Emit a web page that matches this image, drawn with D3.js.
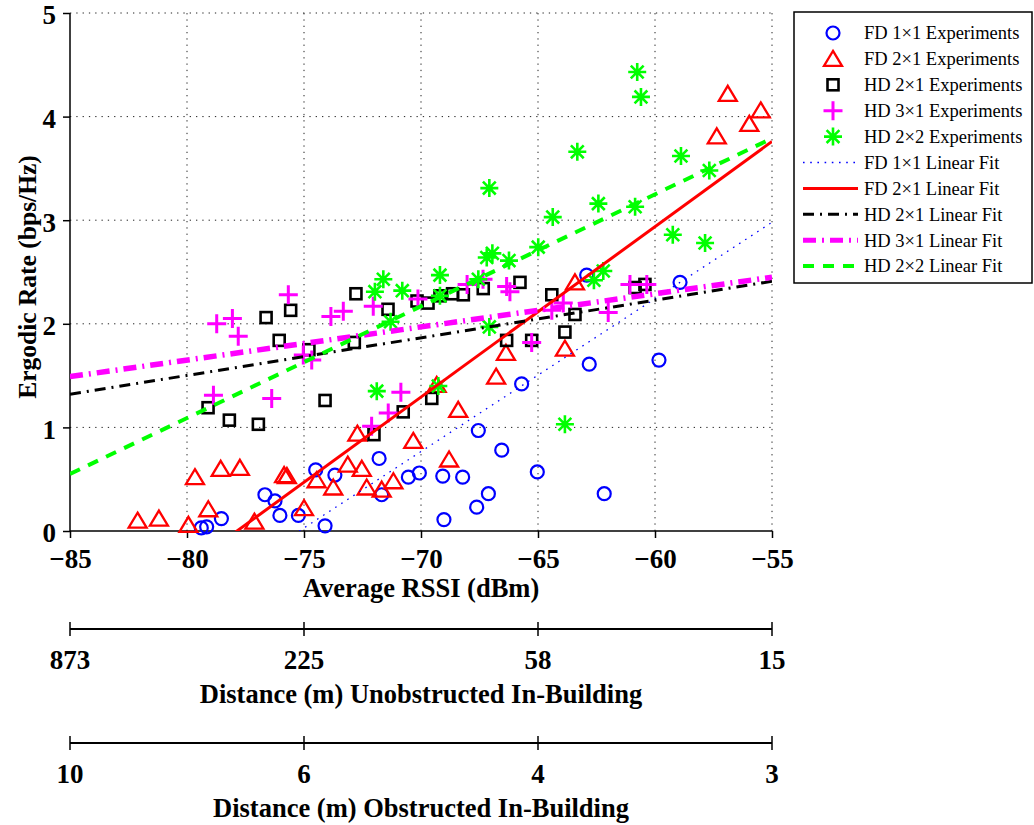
<!DOCTYPE html>
<html><head><meta charset="utf-8">
<script src="https://cdn.jsdelivr.net/npm/d3@7"></script>
<style>body{margin:0;background:#fff}svg{display:block}</style>
</head><body><svg id="c" width="1034" height="825"></svg>
<script>
// ---------- data ----------
const fd11 = [[-79.39,0.03],[-79.16,0.04],[-78.53,0.12],[-76.67,0.35],[-76.24,0.29],[-76.03,0.15],[-75.24,0.15],[-74.50,0.59],[-74.10,0.05],[-73.68,0.54],[-71.79,0.70],[-71.68,0.35],[-70.54,0.52],[-70.07,0.56],[-69.07,0.53],[-69.02,0.11],[-68.22,0.52],[-67.62,0.23],[-67.55,0.97],[-67.12,0.36],[-66.55,0.78],[-65.70,1.42],[-65.03,0.57],[-62.92,2.47],[-62.81,1.61],[-62.17,0.36],[-59.83,1.65],[-58.93,2.40]];
const fd21 = [[-82.11,0.10],[-81.20,0.12],[-79.94,0.06],[-79.66,0.52],[-79.09,0.21],[-78.56,0.60],[-77.74,0.61],[-77.12,0.09],[-75.85,0.54],[-75.73,0.53],[-75.00,0.22],[-74.46,0.49],[-73.75,0.42],[-73.13,0.64],[-72.72,0.94],[-72.53,0.60],[-72.32,0.42],[-71.68,0.40],[-71.18,0.48],[-70.33,0.87],[-69.33,1.41],[-68.80,0.69],[-68.41,1.17],[-66.79,1.49],[-66.37,1.72],[-63.85,1.76],[-63.42,2.40],[-57.36,3.81],[-56.89,4.22],[-55.97,3.93],[-55.48,4.06]];
const hd21 = [[-79.10,1.19],[-78.19,1.07],[-76.95,1.03],[-76.62,2.06],[-76.06,1.84],[-75.57,2.13],[-74.79,1.75],[-74.10,1.26],[-72.85,1.82],[-72.78,2.29],[-72.01,0.93],[-71.41,2.14],[-70.76,1.15],[-70.17,2.22],[-69.70,2.20],[-69.54,1.28],[-69.19,2.27],[-68.65,2.29],[-68.19,2.28],[-67.34,2.34],[-66.34,1.84],[-65.77,2.40],[-65.27,1.84],[-64.41,2.28],[-63.85,1.92],[-63.42,2.09],[-60.85,2.35],[-60.43,2.38]];
const hd31 = [[-78.87,1.31],[-78.73,2.00],[-78.06,2.05],[-77.81,1.88],[-76.38,1.28],[-75.67,2.28],[-75.03,1.70],[-74.67,1.65],[-73.85,2.07],[-73.32,2.12],[-72.11,1.01],[-72.04,2.17],[-71.40,1.14],[-70.86,1.34],[-70.13,2.24],[-68.03,2.38],[-67.35,2.43],[-66.34,2.36],[-66.20,2.31],[-65.27,1.82],[-64.41,2.13],[-63.92,2.20],[-62.00,2.11],[-61.07,2.38],[-60.35,2.38]];
const hd22 = [[-71.97,2.31],[-71.61,2.43],[-71.89,1.35],[-71.30,2.02],[-70.80,2.32],[-69.19,2.47],[-69.19,2.27],[-69.26,1.40],[-67.55,2.43],[-67.08,3.31],[-67.19,2.64],[-66.95,2.68],[-67.08,1.97],[-66.24,2.61],[-64.99,2.74],[-64.37,3.03],[-63.85,1.03],[-63.32,3.66],[-62.61,2.42],[-62.42,3.16],[-62.21,2.51],[-60.85,3.13],[-60.76,4.43],[-60.60,4.19],[-59.24,2.86],[-58.89,3.62],[-57.86,2.78],[-57.68,3.48]];

const fitFD11 = [[-85,-1.446],[-55,2.98]];
const fitFD21 = [[-85,-1.174],[-55,3.76]];
const fitHD21 = [[-85,1.32],[-55,2.41]];
const fitHD31 = [[-85,1.49],[-55,2.45]];
const fitHD22 = [[-85,0.55],[-55,3.79]];

const xTicks = [-85,-80,-75,-70,-65,-60,-55];
const yTicks = [0,1,2,3,4,5];
const distPos = [-85,-75,-65,-55];
const distUnobs = ["873","225","58","15"];
const distObs = ["10","6","4","3"];
const legendLabels = ["FD 1\u00d71 Experiments","FD 2\u00d71 Experiments","HD 2\u00d71 Experiments","HD 3\u00d71 Experiments","HD 2\u00d72 Experiments","FD 1\u00d71 Linear Fit","FD 2\u00d71 Linear Fit","HD 2\u00d71 Linear Fit","HD 3\u00d71 Linear Fit","HD 2\u00d72 Linear Fit"];

// ---------- setup ----------
const svg = d3.select("#c");
const L=70, R=772, T=13, B=531;
const x = d3.scaleLinear().domain([-85,-55]).range([L,R]);
const y = d3.scaleLinear().domain([0,5]).range([B,T]);
const FONT = "'Liberation Serif','Times New Roman',serif";

svg.append("defs").append("clipPath").attr("id","clip")
  .append("rect").attr("x",L).attr("y",T).attr("width",R-L).attr("height",B-T);

// grid
const grid = svg.append("g").attr("stroke","#222").attr("stroke-width",1).attr("stroke-dasharray","1.3,5");
grid.selectAll(".gx").data(xTicks.slice(1)).join("line")
  .attr("x1",d=>x(d)).attr("x2",d=>x(d)).attr("y1",B).attr("y2",T);
grid.selectAll(".gy").data(yTicks.slice(1)).join("line")
  .attr("y1",d=>y(d)).attr("y2",d=>y(d)).attr("x1",L).attr("x2",R);

// axes
const fmtMinus = d => d<0 ? "\u2212"+Math.abs(d) : String(d);
const gx = svg.append("g").attr("transform",`translate(0,${B})`)
  .call(d3.axisBottom(x).tickValues(xTicks).tickSize(7).tickFormat(fmtMinus));
const gy = svg.append("g").attr("transform",`translate(${L},0)`)
  .call(d3.axisLeft(y).tickValues(yTicks).tickSize(7).tickFormat(d3.format("d")));
[gx,gy].forEach(g=>{
  g.select(".domain").attr("stroke","#000").attr("stroke-width",1.5);
  g.selectAll(".tick line").attr("stroke","#000").attr("stroke-width",1.5);
  g.selectAll(".tick text").attr("font-family",FONT).attr("font-weight","bold")
    .attr("font-size",27).attr("fill","#000");
});
gx.select(".domain").attr("d",`M${L},0H${R}`);
gy.select(".domain").attr("d",`M0,${B}V${T}`);
gx.selectAll(".tick text").attr("dy",null).attr("y",37);
gy.selectAll(".tick text").attr("x",-14).attr("dy","0.4em");

// axis titles
svg.append("text").attr("x",(L+R)/2).attr("y",597).attr("text-anchor","middle")
  .attr("font-family",FONT).attr("font-weight","bold").attr("font-size",26.5)
  .text("Average RSSI (dBm)");
svg.append("text").attr("transform",`translate(36,277) rotate(-90)`).attr("text-anchor","middle")
  .attr("font-family",FONT).attr("font-weight","bold").attr("font-size",25.5)
  .text("Ergodic Rate (bps/Hz)");

// secondary distance axes
function distAxis(lineY, labels, title, labelY, titleY){
  const g = svg.append("g");
  g.append("line").attr("x1",x(-85)).attr("x2",x(-55)).attr("y1",lineY).attr("y2",lineY)
    .attr("stroke","#000").attr("stroke-width",2);
  g.selectAll(".t").data(distPos).join("line")
    .attr("x1",d=>x(d)).attr("x2",d=>x(d)).attr("y1",lineY-7).attr("y2",lineY+7)
    .attr("stroke","#000").attr("stroke-width",1.5);
  g.selectAll(".l").data(distPos).join("text")
    .attr("x",d=>x(d)).attr("y",labelY).attr("text-anchor","middle")
    .attr("font-family",FONT).attr("font-weight","bold").attr("font-size",27)
    .text((d,i)=>labels[i]);
  g.append("text").attr("x",(L+R)/2).attr("y",titleY).attr("text-anchor","middle")
    .attr("font-family",FONT).attr("font-weight","bold").attr("font-size",26.5).text(title);
}
distAxis(629, distUnobs, "Distance (m) Unobstructed In-Building", 669, 703);
distAxis(743, distObs, "Distance (m) Obstructed In-Building", 783, 817);

// ---------- marker shapes ----------
const BLUE="#0000ff", RED="#ff0000", MAG="#ff00ff", GRN="#00ff00";
function drawMarker(g, type, cx, cy){
  if(type==="o"){
    g.append("circle").attr("cx",cx).attr("cy",cy).attr("r",6.5)
      .attr("fill","none").attr("stroke",BLUE).attr("stroke-width",2.2);
  } else if(type==="^"){
    g.append("path").attr("d",`M${cx},${cy-8}L${cx+9},${cy+7}L${cx-9},${cy+7}Z`)
      .attr("fill","none").attr("stroke",RED).attr("stroke-width",2.3).attr("stroke-linejoin","miter");
  } else if(type==="s"){
    g.append("rect").attr("x",cx-5.5).attr("y",cy-5.5).attr("width",11).attr("height",11)
      .attr("fill","none").attr("stroke","#000").attr("stroke-width",2.6);
  } else if(type==="+"){
    g.append("path").attr("d",`M${cx-9.5},${cy}H${cx+9.5}M${cx},${cy-9.5}V${cy+9.5}`)
      .attr("stroke",MAG).attr("stroke-width",3).attr("fill","none");
  } else if(type==="*"){
    const a=9, b=6.4;
    g.append("path").attr("d",`M${cx-a},${cy}H${cx+a}M${cx},${cy-a}V${cy+a}M${cx-b},${cy-b}L${cx+b},${cy+b}M${cx-b},${cy+b}L${cx+b},${cy-b}`)
      .attr("stroke",GRN).attr("stroke-width",2.6).attr("fill","none");
  }
}
const series = [
  {data:fd11, m:"o"},{data:fd21, m:"^"},{data:hd21, m:"s"},{data:hd31, m:"+"},{data:hd22, m:"*"}
];
const pts = svg.append("g");
series.forEach(s=>{
  const g = pts.append("g");
  s.data.forEach(d=>drawMarker(g, s.m, x(d[0]), y(d[1])));
});

// ---------- fit lines ----------
const fits = [
  {data:fitFD11, color:BLUE, w:1.3, dash:"1.6,5.6"},
  {data:fitFD21, color:RED, w:3, dash:null},
  {data:fitHD21, color:"#000", w:3, dash:"11,6,2,6"},
  {data:fitHD31, color:MAG, w:5.5, dash:"13,6,2,6"},
  {data:fitHD22, color:GRN, w:4, dash:"11,9"}
];
const line = d3.line().x(d=>x(d[0])).y(d=>y(d[1]));
const fg = svg.append("g").attr("clip-path","url(#clip)");
fits.forEach(f=>{
  fg.append("path").attr("d",line(f.data)).attr("fill","none")
    .attr("stroke",f.color).attr("stroke-width",f.w)
    .attr("stroke-dasharray",f.dash);
});

// ---------- legend ----------
const lg = svg.append("g");
lg.append("rect").attr("x",794).attr("y",12).attr("width",238).attr("height",271)
  .attr("fill","#fff").attr("stroke","#000").attr("stroke-width",1.5);
legendLabels.forEach((t,i)=>{
  const cy = 33 + i*25.9;
  if(i<5){
    drawMarker(lg, series[i].m, 833, cy);
  } else {
    const f = fits[i-5];
    lg.append("line").attr("x1",803).attr("x2",858).attr("y1",cy).attr("y2",cy)
      .attr("stroke",f.color).attr("stroke-width",Math.min(f.w,5)).attr("stroke-dasharray",f.dash);
  }
  lg.append("text").attr("x",864).attr("y",cy+6.3)
    .attr("font-family",FONT).attr("font-size",18.5).attr("fill","#000").text(t);
});
</script></body></html>
